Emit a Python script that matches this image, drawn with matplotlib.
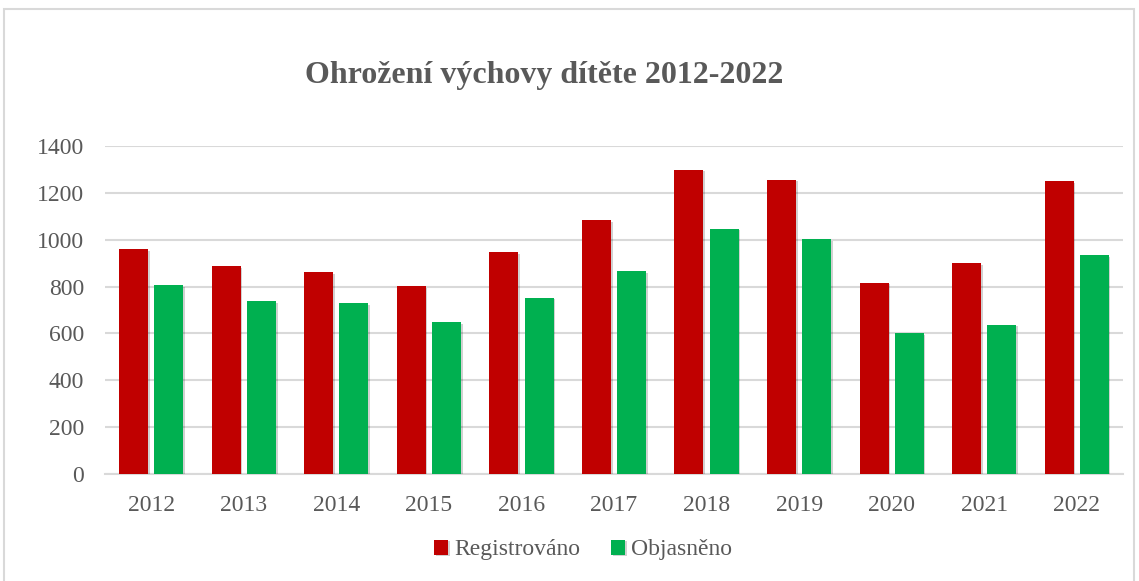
import matplotlib
matplotlib.use("Agg")
import matplotlib.pyplot as plt
import matplotlib.patheffects as pe
from matplotlib.patches import Rectangle
import numpy as np

years = ["2012", "2013", "2014", "2015", "2016", "2017", "2018", "2019", "2020", "2021", "2022"]
registrovano = [961, 886, 862, 802, 946, 1084, 1299, 1257, 817, 900, 1249]
objasneno = [807, 738, 728, 649, 752, 866, 1047, 1003, 601, 638, 933]
yticks = [0, 200, 400, 600, 800, 1000, 1200, 1400]

RED = "#c00000"
GREEN = "#00b050"
TXT = "#595959"
FONT = "Liberation Serif"

W, H = 1139, 581
fig = plt.figure(figsize=(W / 100, H / 100), dpi=100)
fig.patch.set_facecolor("white")

# outer chart border
fig.add_artist(Rectangle((4 / W, 0 - 0.02), (1134 - 4) / W, (H - 9) / H + 0.02,
                         transform=fig.transFigure, fill=False,
                         edgecolor="#d9d9d9", linewidth=1.5))

ax = fig.add_axes([105 / W, (H - 474) / H, (1123 - 105) / W, (474 - 146) / H])
x = np.arange(len(years))
bw = 0.313
off = 0.19
shadow = [pe.SimplePatchShadow(offset=(1.2, -1.2), shadow_rgbFace="#000000", alpha=0.18), pe.Normal()]
b1 = ax.bar(x - off, registrovano, bw, color=RED, label="Registrováno", zorder=3)
b2 = ax.bar(x + off, objasneno, bw, color=GREEN, label="Objasněno", zorder=3)
for b in list(b1) + list(b2):
    b.set_path_effects(shadow)

ax.set_xlim(-0.5, len(years) - 0.5)
ax.set_ylim(0, 1400)
ax.set_yticks(yticks)
ax.set_xticks(x)
ax.set_xticklabels(years)
ax.yaxis.grid(True, color="#d9d9d9", linewidth=1.5, zorder=0)
ax.set_axisbelow(True)
for s in ["top", "right", "left"]:
    ax.spines[s].set_visible(False)
ax.spines["bottom"].set_color("#d9d9d9")
ax.spines["bottom"].set_linewidth(1.5)
ax.tick_params(axis="both", length=0, labelsize=17, labelcolor=TXT)
ax.tick_params(axis="x", pad=15)
ax.tick_params(axis="y", pad=15)
for lab in ax.get_xticklabels() + ax.get_yticklabels():
    lab.set_fontfamily(FONT)

fig.text(544 / W, (H - 75) / H, "Ohrožení výchovy dítěte 2012-2022", ha="center", va="center",
         fontsize=23, fontweight="bold", color=TXT, fontfamily=FONT)

leg = fig.legend(handles=[b1, b2], loc="center", bbox_to_anchor=(583 / W, (H - 550) / H),
                 ncol=2, frameon=False, prop={"family": FONT, "size": 17},
                 handlelength=0.6, handleheight=0.6, handletextpad=0.25, columnspacing=1.3)
for t in leg.get_texts():
    t.set_color(TXT)

fig.savefig("out.png", dpi=100)
